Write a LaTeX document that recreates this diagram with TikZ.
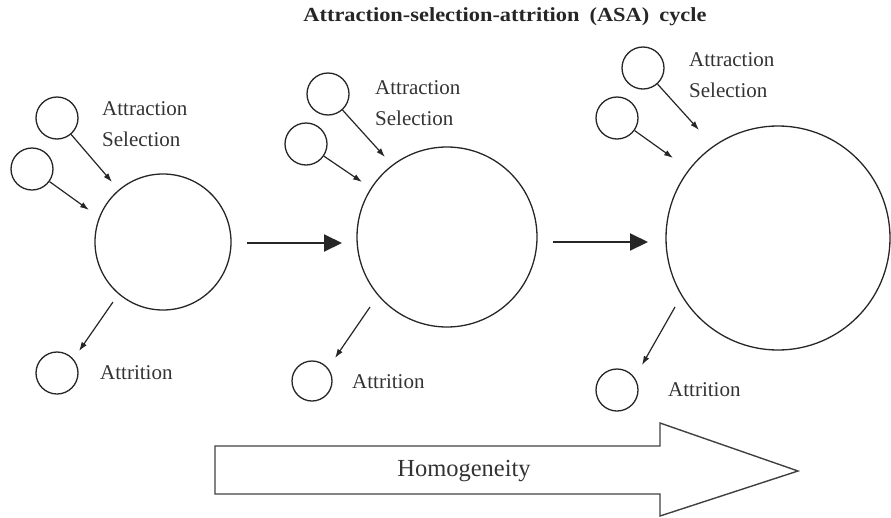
\documentclass[tikz,border=0pt]{standalone}
\usepackage{fontspec}
\setmainfont{Liberation Serif}
\newfontfamily\headfont[FakeStretch=1.12]{Liberation Serif}
\usetikzlibrary{arrows.meta}

\begin{document}
\begin{tikzpicture}[x=1pt, y=-1pt,
    member/.style={circle, draw=black!85, line width=1.3pt, minimum size=42pt, inner sep=0pt},
    group/.style={circle, draw=black!85, line width=1.3pt, inner sep=0pt},
    flow/.style={-{Latex[length=9pt, width=6pt]}, draw=black!85, line width=1.2pt},
    stage/.style={-{Triangle[length=18pt, width=17pt]}, draw=black!85, line width=2pt},
    lbl/.style={anchor=west, inner sep=0pt, font=\fontsize{21}{24}\selectfont, text=black!80}]
  \useasboundingbox (0,0) rectangle (891,517);
  \node (title) at (505,17) [text=black!85] {\headfont\bfseries\fontsize{20}{23}\selectfont Attraction-selection-attrition\enspace(ASA)\enspace cycle};

  \node (g1) at (163,242) [group, minimum size=136pt] {};
  \node (a1) at (57,118) [member] {};
  \node (b1) at (32,169) [member] {};
  \node (c1) at (57,373) [member] {};
  \coordinate (ea1) at (112,182);
  \coordinate (eb1) at (89,210);
  \coordinate (sc1) at (113,302);
  \coordinate (ec1) at (79,351);
  \draw[flow] (a1) -- (ea1);
  \draw[flow] (b1) -- (eb1);
  \draw[flow] (sc1) -- (ec1);
  \node[lbl] (ta1) at (102,109) {Attraction};
  \node[lbl] (tb1) at (102,139) {Selection};
  \node[lbl] (tc1) at (100,373) {Attrition};

  \node (g2) at (447,237) [group, minimum size=180pt] {};
  \node (a2) at (328,94) [member] {};
  \node (b2) at (306,144) [member] {};
  \node (c2) at (312,381) [member, minimum size=40pt] {};
  \coordinate (ea2) at (385,157);
  \coordinate (eb2) at (362,182);
  \coordinate (sc2) at (370,307);
  \coordinate (ec2) at (335,358);
  \draw[flow] (a2) -- (ea2);
  \draw[flow] (b2) -- (eb2);
  \draw[flow] (sc2) -- (ec2);
  \node[lbl] (ta2) at (375,88) {Attraction};
  \node[lbl] (tb2) at (375,118) {Selection};
  \node[lbl] (tc2) at (352,382) {Attrition};

  \node (g3) at (778,238) [group, minimum size=224pt] {};
  \node (a3) at (643,68) [member] {};
  \node (b3) at (617,118) [member] {};
  \node (c3) at (617,390) [member] {};
  \coordinate (ea3) at (699,130);
  \coordinate (eb3) at (673,158);
  \coordinate (sc3) at (675,307);
  \coordinate (ec3) at (642,365);
  \draw[flow] (a3) -- (ea3);
  \draw[flow] (b3) -- (eb3);
  \draw[flow] (sc3) -- (ec3);
  \node[lbl] (ta3) at (689,60) {Attraction};
  \node[lbl] (tb3) at (689,90) {Selection};
  \node[lbl] (tc3) at (668,390) {Attrition};

  \coordinate (h1s) at (247,243);
  \coordinate (h1e) at (342,243);
  \coordinate (h2s) at (553,242);
  \coordinate (h2e) at (648,242);
  \draw[stage] (h1s) -- (h1e);
  \draw[stage] (h2s) -- (h2e);

  \draw[draw=black!75, line width=1.4pt] (215,446) -- (660,446) -- (660,423) -- (798,471) -- (660,516) -- (660,494) -- (215,494) -- cycle;
  \node (homog) at (464,471) [text=black!80] {\fontsize{24.5}{28}\selectfont Homogeneity};
\end{tikzpicture}
\end{document}
